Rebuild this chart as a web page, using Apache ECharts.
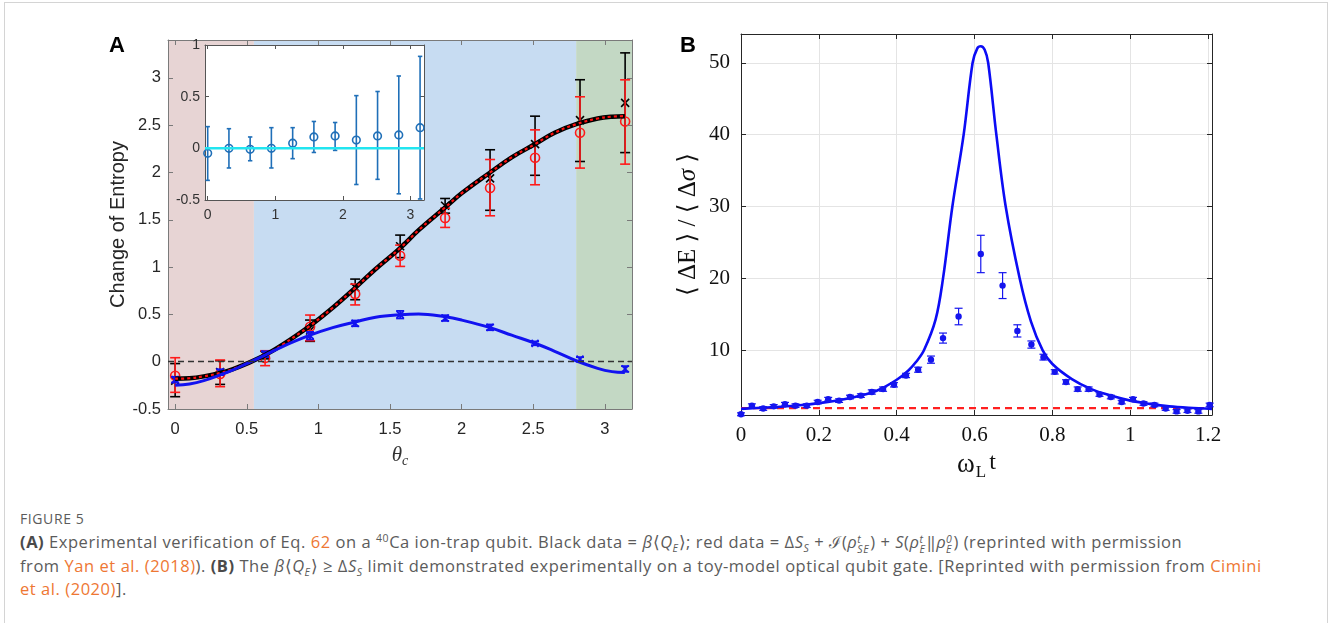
<!DOCTYPE html>
<html>
<head>
<meta charset="utf-8">
<title>Figure 5</title>
<script src="https://cdn.jsdelivr.net/npm/echarts@6/dist/echarts.min.js"></script>
<style>
  html, body { margin: 0; padding: 0; background: #fff; }
  #frame { position: absolute; left: 4px; top: 2px; width: 1324px; height: 640px; border: 1px solid #d4d4d4; box-sizing: border-box; }
  #main { position: absolute; left: 0; top: 0; width: 1330px; height: 505px; }
  #cap { position: absolute; left: 20px; top: 507px; width: 1305px; font-family: "Open Sans", "Noto Sans", sans-serif; color: #5b5b5b; }
  #cap .fig { font-size: 14px; letter-spacing: 0.6px; line-height: 23px; }
  #cap .txt { font-size: 16.5px; letter-spacing: 0.55px; line-height: 23px; white-space: nowrap; }
  #cap a { color: #ee7733; text-decoration: none; }
  #cap b { color: #4a4a4a; }
  #cap sub, #cap sup { font-size: 10.5px; line-height: 0; }
  .st { display: inline-flex; flex-direction: column; vertical-align: middle; font-size: 10.5px; line-height: 10px; font-style: italic; margin-right: 1px; }
</style>
</head>
<body>
<div id="frame"></div>
<div id="main"></div>
<div id="cap">
  <div class="fig">FIGURE 5</div>
  <div class="txt"><b>(A)</b> Experimental verification of Eq. <a>62</a> on a <sup>40</sup>Ca ion-trap qubit. Black data = <i>β</i>⟨<i>Q<sub>E</sub></i>⟩; red data = Δ<i>S<sub>S</sub></i> + ℐ(<i>ρ</i><span class="st"><span>t</span><span>SE</span></span>) + <i>S</i>(<i>ρ</i><span class="st"><span>t</span><span>E</span></span>‖<i>ρ</i><span class="st"><span>0</span><span>E</span></span>) (reprinted with permission<br>from <a>Yan et al. (2018)</a>). <b>(B)</b> The <i>β</i>⟨<i>Q<sub>E</sub></i>⟩ ≥ Δ<i>S<sub>S</sub></i> limit demonstrated experimentally on a toy-model optical qubit gate. [Reprinted with permission from <a>Cimini</a><br><a>et al. (2020)</a>].</div>
</div>
<script type="text/javascript">
// ---- panel A data ----
var thetaPts = [0, 0.314, 0.628, 0.942, 1.257, 1.571, 1.885, 2.199, 2.513, 2.827, 3.142];
var blackY  = [-0.20, -0.11, 0.07, 0.33, 0.785, 1.22, 1.648, 1.937, 2.30, 2.553, 2.736];
var blackLo = [-0.37, -0.24, 0.03, 0.215, 0.655, 1.10, 1.57, 1.60, 1.97, 2.116, 2.21];
var blackHi = [-0.02, 0.01, 0.11, 0.44, 0.873, 1.338, 1.725, 2.24, 2.595, 2.98, 3.264];
var redY  = [-0.148, -0.13, 0.04, 0.37, 0.715, 1.12, 1.518, 1.835, 2.155, 2.419, 2.539];
var redLo = [-0.324, -0.264, -0.042, 0.222, 0.60, 1.007, 1.419, 1.542, 1.87, 2.046, 2.088];
var redHi = [0.042, 0.018, 0.116, 0.493, 0.82, 1.232, 1.623, 2.137, 2.45, 2.80, 2.979];
var blueY  = [-0.19, -0.11, 0.08, 0.275, 0.405, 0.497, 0.461, 0.363, 0.194, 0.028, -0.077];
var blueLo = [-0.22, -0.14, 0.05, 0.235, 0.375, 0.457, 0.431, 0.333, 0.174, 0.008, -0.107];
var blueHi = [-0.16, -0.08, 0.11, 0.315, 0.435, 0.537, 0.491, 0.393, 0.214, 0.048, -0.047];

// theory curves
var curveX = [0, 0.1, 0.2, 0.314, 0.4, 0.5, 0.628, 0.75, 0.942, 1.1, 1.257, 1.4, 1.571, 1.7, 1.885, 2.0, 2.199, 2.35, 2.513, 2.65, 2.8, 2.95, 3.05, 3.14];
var theoryY = [-0.18, -0.175, -0.155, -0.12, -0.08, -0.02, 0.07, 0.18, 0.38, 0.57, 0.78, 0.98, 1.2, 1.39, 1.63, 1.78, 2.0, 2.16, 2.30, 2.42, 2.51, 2.57, 2.59, 2.595];
var blueCurveY = [-0.25, -0.235, -0.2, -0.14, -0.09, -0.02, 0.07, 0.16, 0.28, 0.36, 0.42, 0.47, 0.497, 0.505, 0.475, 0.44, 0.36, 0.28, 0.195, 0.11, 0.01, -0.07, -0.105, -0.115];

// shaded regions [from, to]
var regions = [[-0.05, 0.55], [0.55, 2.8], [2.8, 3.19]];
var regionColors = ['#e7d4d4', '#c7dcf2', '#c3d8c4'];

// inset data
var insetY  = [-0.048, 0.0, -0.01, 0.0, 0.05, 0.11, 0.12, 0.08, 0.12, 0.13, 0.20];
var insetLo = [-0.31, -0.19, -0.12, -0.19, -0.10, -0.04, -0.02, -0.35, -0.30, -0.44, -0.49];
var insetHi = [0.21, 0.19, 0.11, 0.20, 0.20, 0.26, 0.25, 0.51, 0.55, 0.70, 0.89];

// ---- panel B data ----
var bX = [0, 0.028, 0.057, 0.084, 0.113, 0.140, 0.169, 0.197, 0.224, 0.252, 0.280, 0.308, 0.336, 0.365, 0.393, 0.424, 0.455, 0.488, 0.519, 0.559,
          0.616, 0.672, 0.710, 0.746, 0.777, 0.806, 0.835, 0.865, 0.893, 0.921, 0.950, 0.978, 1.007, 1.034, 1.062, 1.091, 1.119, 1.147, 1.175, 1.204];
var bY = [1.1, 2.3, 1.9, 2.2, 2.5, 2.3, 2.3, 2.8, 3.2, 3.0, 3.5, 3.7, 4.2, 4.6, 5.2, 6.5, 7.3, 8.7, 11.7, 14.7,
          23.4, 19.0, 12.7, 10.8, 9.05, 7.0, 5.6, 4.6, 4.6, 3.85, 3.5, 2.8, 3.2, 2.6, 2.4, 1.9, 1.5, 1.6, 1.5, 2.4];
var bErr = [0.2, 0.25, 0.25, 0.25, 0.25, 0.25, 0.25, 0.25, 0.25, 0.25, 0.25, 0.25, 0.3, 0.3, 0.3, 0.3, 0.35, 0.5, 0.7, 1.15,
            2.6, 1.8, 0.85, 0.5, 0.4, 0.3, 0.3, 0.3, 0.3, 0.25, 0.25, 0.25, 0.25, 0.25, 0.25, 0.25, 0.25, 0.25, 0.25, 0.25];
var bCurveX = [0, 0.05, 0.1, 0.15, 0.2, 0.25, 0.3, 0.35, 0.4, 0.43, 0.45, 0.47, 0.5, 0.519, 0.543, 0.572, 0.595, 0.607, 0.616, 0.626,
               0.635, 0.656, 0.68, 0.716, 0.745, 0.775, 0.8, 0.85, 0.9, 0.95, 1.0, 1.05, 1.1, 1.15, 1.21];
var bCurveY = [1.85, 2.0, 2.15, 2.35, 2.65, 3.05, 3.6, 4.4, 5.9, 7.2, 8.4, 10, 14.3, 20, 30, 40, 50, 52, 52.3, 51.8,
               50, 40, 30, 20, 14, 10, 8.1, 6.0, 4.6, 3.7, 3.0, 2.55, 2.2, 2.0, 1.85];
var bBound = 1.95; // red dashed bound

// tick values
var tickAx = [0, 0.5, 1, 1.5, 2, 2.5, 3];
var tickAy = [-0.5, 0, 0.5, 1, 1.5, 2, 2.5, 3];
var tickIx = [0, 1, 2, 3];
var tickIy = [-0.5, 0, 0.5, 1];
var tickBx = [0, 0.2, 0.4, 0.6, 0.8, 1, 1.2];
var tickBy = [10, 20, 30, 40, 50];

function zip2(a, b) {
    var out = [];
    for (var i = 0; i < a.length; i++) out.push([a[i], b[i]]);
    return out;
}
function zip4(x, y, lo, hi) {
    var out = [];
    for (var i = 0; i < x.length; i++) out.push([x[i], y[i], lo[i], hi[i]]);
    return out;
}

// error bar + marker drawn through the axis scales
function errRender(kind, color, cap, size, lw) {
    return function (params, api) {
        var p = api.coord([api.value(0), api.value(1)]);
        var lo = api.coord([api.value(0), api.value(2)]);
        var hi = api.coord([api.value(0), api.value(3)]);
        var st = { stroke: color, lineWidth: lw };
        var ch = [
            { type: 'line', shape: { x1: p[0], y1: lo[1], x2: p[0], y2: hi[1] }, style: st },
            { type: 'line', shape: { x1: p[0] - cap, y1: lo[1], x2: p[0] + cap, y2: lo[1] }, style: st },
            { type: 'line', shape: { x1: p[0] - cap, y1: hi[1], x2: p[0] + cap, y2: hi[1] }, style: st }
        ];
        if (kind === 'o') {
            ch.push({ type: 'circle', shape: { cx: p[0], cy: p[1], r: size }, style: { fill: 'none', stroke: color, lineWidth: lw } });
        } else if (kind === 'x') {
            ch.push({ type: 'line', shape: { x1: p[0] - size, y1: p[1] - size, x2: p[0] + size, y2: p[1] + size }, style: st });
            ch.push({ type: 'line', shape: { x1: p[0] - size, y1: p[1] + size, x2: p[0] + size, y2: p[1] - size }, style: st });
        } else {
            ch.push({ type: 'circle', shape: { cx: p[0], cy: p[1], r: size }, style: { fill: color } });
        }
        return { type: 'group', children: ch };
    };
}

function ax(o) {
    return {
        type: 'value', gridIndex: o.g, position: o.pos, min: o.min, max: o.max, z: o.z || 0,
        axisLine: { show: true, onZero: false, lineStyle: { color: o.lc, width: 1 } },
        axisTick: { show: true, inside: true, length: o.tl || 5, customValues: o.ticks, lineStyle: { color: o.lc } },
        axisLabel: { show: !!o.lab, customValues: o.ticks, margin: o.margin || 8, color: o.color, fontSize: o.fs, fontFamily: o.ff },
        splitLine: { show: !!o.split, lineStyle: { color: '#e4e4e4', width: 1 } },
        name: o.name, nameLocation: 'middle', nameGap: o.gap, nameTextStyle: o.nts
    };
}

var myChart = echarts.init(document.getElementById('main'));

var sans = 'Liberation Sans, Arial, sans-serif';
var serif = 'Liberation Serif, DejaVu Serif, serif';

var markAreaData = [];
for (var i = 0; i < regions.length; i++) {
    markAreaData.push([{ xAxis: regions[i][0], itemStyle: { color: regionColors[i] } }, { xAxis: regions[i][1] }]);
}

var option = {
    animation: false,
    backgroundColor: 'transparent',
    graphic: [
        { type: 'text', left: 109, top: 35, style: { text: 'A', font: 'bold 22px ' + sans, fill: '#000' } },
        { type: 'text', left: 680, top: 35, style: { text: 'B', font: 'bold 22px ' + sans, fill: '#000' } }
    ],
    grid: [
        { left: 168, top: 40, width: 464, height: 369, show: false },
        { left: 205, top: 45, width: 219, height: 155, show: true, backgroundColor: '#fff', borderWidth: 0, z: 5 },
        { left: 741, top: 34, width: 471, height: 381, show: true, backgroundColor: '#fff', borderWidth: 0 }
    ],
    xAxis: [
        ax({ g: 0, pos: 'bottom', min: -0.05, max: 3.19, ticks: tickAx, lab: true, lc: '#7a7a7a', color: '#262626', fs: 16.5, ff: sans, margin: 12, z: 4,
             name: '{t|θ}{s|c}', gap: 33,
             nts: { rich: { t: { fontFamily: serif, fontStyle: 'italic', fontSize: 21, color: '#333' },
                            s: { fontFamily: serif, fontStyle: 'italic', fontSize: 14, color: '#333', padding: [12, 0, 0, 0] } } } }),
        ax({ g: 0, pos: 'top', min: -0.05, max: 3.19, ticks: tickAx, lc: '#7a7a7a', z: 4 }),
        ax({ g: 1, pos: 'bottom', min: -0.04, max: 3.2, ticks: tickIx, lab: true, lc: '#555', color: '#333', fs: 14, ff: sans, margin: 8, z: 6, tl: 4 }),
        ax({ g: 1, pos: 'top', min: -0.04, max: 3.2, ticks: tickIx, lc: '#555', z: 6, tl: 4 }),
        ax({ g: 2, pos: 'bottom', min: 0, max: 1.21, ticks: tickBx, lab: true, lc: '#262626', color: '#111', fs: 21, ff: serif, margin: 10, split: true,
             name: '{w|ω}{s|L}{t|t}', gap: 28,
             nts: { rich: { w: { fontFamily: serif, fontSize: 27, color: '#111' },
                            s: { fontFamily: serif, fontSize: 17, color: '#111', padding: [16, 3, 0, 1] },
                            t: { fontFamily: serif, fontSize: 24, color: '#111', padding: [0, 0, 4, 0] } } } }),
        ax({ g: 2, pos: 'top', min: 0, max: 1.21, ticks: tickBx, lc: '#262626' })
    ],
    yAxis: [
        ax({ g: 0, pos: 'left', min: -0.5, max: 3.4, ticks: tickAy, lab: true, lc: '#7a7a7a', color: '#262626', fs: 16.5, ff: sans, margin: 7, z: 4,
             name: 'Change of Entropy', gap: 40, nts: { fontFamily: sans, fontSize: 20, color: '#262626' } }),
        ax({ g: 0, pos: 'right', min: -0.5, max: 3.4, ticks: tickAy, lc: '#7a7a7a', z: 4 }),
        ax({ g: 1, pos: 'left', min: -0.5, max: 1, ticks: tickIy, lab: true, lc: '#555', color: '#333', fs: 14, ff: sans, margin: 5, z: 6, tl: 4 }),
        ax({ g: 1, pos: 'right', min: -0.5, max: 1, ticks: tickIy, lc: '#555', z: 6, tl: 4 }),
        ax({ g: 2, pos: 'left', min: 1, max: 54, ticks: tickBy, lab: true, lc: '#262626', color: '#111', fs: 21, ff: serif, margin: 11, split: true,
             name: '{n|⟨ ΔE ⟩ / ⟨ Δ}{i|σ}{n| ⟩}', gap: 40,
             nts: { rich: { n: { fontFamily: serif, fontSize: 25, color: '#111' },
                            i: { fontFamily: serif, fontStyle: 'italic', fontSize: 25, color: '#111' } } } }),
        ax({ g: 2, pos: 'right', min: 1, max: 54, ticks: tickBy, lc: '#262626' })
    ],
    series: [
        // A: shaded regions and the dashed zero line
        {
            type: 'line', xAxisIndex: 0, yAxisIndex: 0, data: [], z: 1, silent: true,
            markArea: { silent: true, data: markAreaData },
            markLine: { silent: true, symbol: ['none', 'none'], label: { show: false },
                        lineStyle: { color: '#333', width: 1.4, type: [6, 4] }, data: [{ yAxis: 0 }] }
        },
        { type: 'line', xAxisIndex: 0, yAxisIndex: 0, z: 3, data: zip2(curveX, theoryY), smooth: 0.4, showSymbol: false,
          lineStyle: { color: '#000', width: 4.5 } },
        { type: 'line', xAxisIndex: 0, yAxisIndex: 0, z: 3, data: zip2(curveX, theoryY), smooth: 0.4, showSymbol: false,
          lineStyle: { color: '#ff1010', width: 2.2, type: [3, 3] } },
        { type: 'line', xAxisIndex: 0, yAxisIndex: 0, z: 3, data: zip2(curveX, blueCurveY), smooth: 0.4, showSymbol: false,
          lineStyle: { color: '#1212f0', width: 3 } },
        { type: 'custom', xAxisIndex: 0, yAxisIndex: 0, z: 3, renderItem: errRender('x', '#000', 5, 4, 1.6),
          encode: { x: 0, y: 1 }, data: zip4(thetaPts, blackY, blackLo, blackHi) },
        { type: 'custom', xAxisIndex: 0, yAxisIndex: 0, z: 3, renderItem: errRender('o', '#ff1a1a', 5, 4.5, 1.6),
          encode: { x: 0, y: 1 }, data: zip4(thetaPts, redY, redLo, redHi) },
        { type: 'custom', xAxisIndex: 0, yAxisIndex: 0, z: 3, renderItem: errRender('x', '#1212f0', 4, 3.5, 1.8),
          encode: { x: 0, y: 1 }, data: zip4(thetaPts, blueY, blueLo, blueHi) },
        // inset
        { type: 'line', xAxisIndex: 2, yAxisIndex: 2, z: 7, data: [[-0.04, 0], [3.2, 0]], showSymbol: false,
          lineStyle: { color: '#22e5f0', width: 2.5 } },
        { type: 'custom', xAxisIndex: 2, yAxisIndex: 2, z: 7, renderItem: errRender('o', '#1f6fb8', 2.2, 3.8, 1.6),
          encode: { x: 0, y: 1 }, data: zip4(thetaPts, insetY, insetLo, insetHi) },
        // B
        { type: 'line', xAxisIndex: 4, yAxisIndex: 4, z: 3, data: [[0, bBound], [1.21, bBound]], showSymbol: false,
          lineStyle: { color: '#ff2020', width: 2.4, type: [7, 5] } },
        { type: 'line', xAxisIndex: 4, yAxisIndex: 4, z: 3, data: zip2(bCurveX, bCurveY), smooth: 0.35, showSymbol: false,
          lineStyle: { color: '#0c0cf5', width: 2.6 } },
        { type: 'custom', xAxisIndex: 4, yAxisIndex: 4, z: 4,
          renderItem: errRender('dot', '#1515ee', 4, 3.2, 1.2),
          encode: { x: 0, y: 1 },
          data: bX.map(function (x, i) { return [x, bY[i], bY[i] - bErr[i], bY[i] + bErr[i]]; }) }
    ]
};

myChart.setOption(option);
</script>
</body>
</html>
